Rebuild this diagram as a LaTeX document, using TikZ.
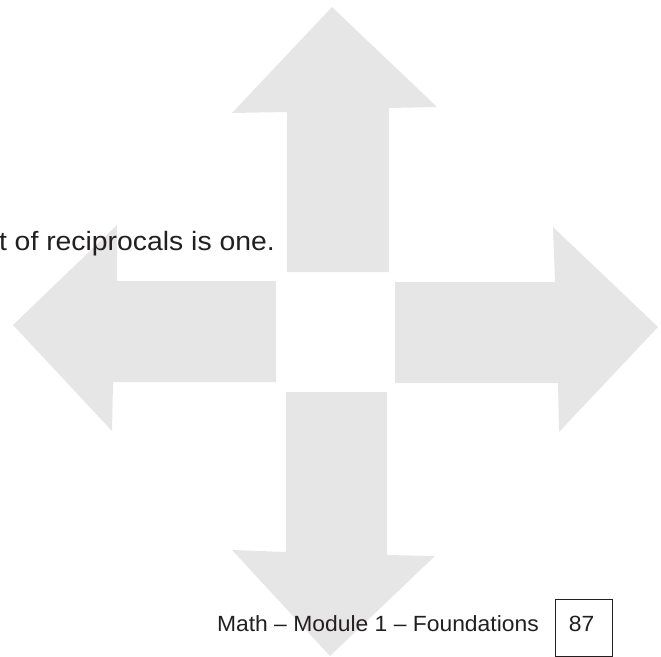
\documentclass[tikz,border=0pt]{standalone}
\usepackage{fontspec}
\setmainfont{Liberation Sans}
\usepackage{graphicx}
\definecolor{arrowgray}{HTML}{E6E6E6}
\definecolor{inkgray}{HTML}{231F20}
\tikzset{
  bigarrow/.style={fill=arrowgray, draw=none},
  pagetext/.style={inner sep=0pt, text=inkgray},
  pagebox/.style={draw=inkgray, line width=0.9pt, fill=none}
}
\begin{document}
\begin{tikzpicture}[x=1pt,y=-1pt]
\useasboundingbox (0,0) rectangle (661,656);
% up arrow
\fill[bigarrow] (287,272) -- (287,112) -- (232,113) -- (332,7) -- (437,107) -- (389,108) -- (389,272) -- cycle;
% right arrow
\fill[bigarrow] (395,282) -- (555,282) -- (553,227) -- (658,327) -- (559,432) -- (558,383) -- (395,383) -- cycle;
% left arrow
\fill[bigarrow] (276,281) -- (117,281) -- (117,225) -- (13,325) -- (112,431) -- (113,382) -- (276,382) -- cycle;
% down arrow
\fill[bigarrow] (286,392) -- (387,392) -- (387,555) -- (435,556) -- (330,656) -- (232,550) -- (286,552) -- cycle;
% texts
\node[pagetext, anchor=base east] (recip) at (275,250)
  {\scalebox{1.07}[1]{\fontsize{26.5}{31}\selectfont t of reciprocals is one.}};
\node[pagetext, anchor=base east] (footer) at (539,631)
  {\scalebox{1.04}[1]{\fontsize{22}{26}\selectfont Math – Module 1 – Foundations}};
\draw[pagebox] (555,599) rectangle (612,656);
\node[pagetext, anchor=base] (pagenum) at (581.5,631)
  {\scalebox{1.04}[1]{\fontsize{22}{26}\selectfont 87}};
\end{tikzpicture}
\end{document}
